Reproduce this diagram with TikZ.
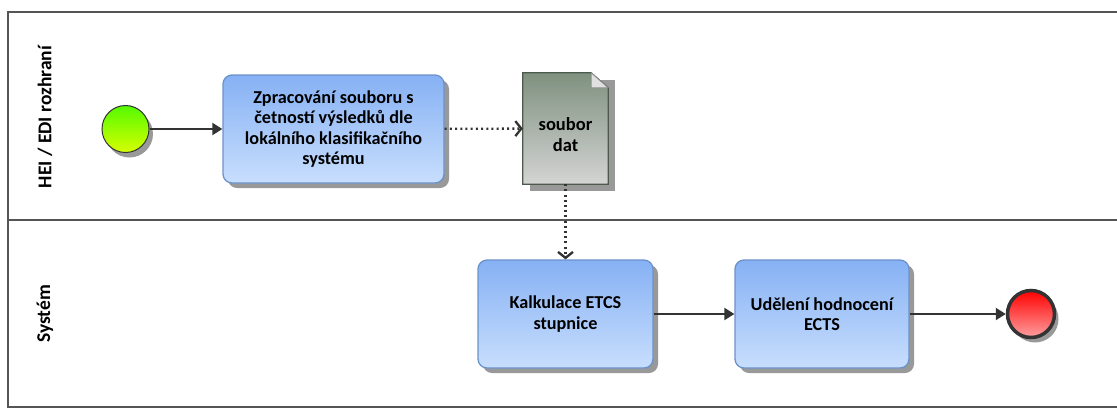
\documentclass[tikz,border=0pt]{standalone}
\usepackage{fontspec}
\setmainfont{Carlito}
\usetikzlibrary{arrows.meta,shadows}
\definecolor{laneline}{HTML}{555555}
\definecolor{flowline}{HTML}{333333}
\definecolor{tasktop}{HTML}{86B1F4}
\definecolor{taskbot}{HTML}{C8DEFD}
\definecolor{taskrim}{HTML}{6C92CA}
\definecolor{doctop}{HTML}{7F917F}
\definecolor{docbot}{HTML}{D4D4D4}
\definecolor{docrim}{HTML}{4B5A4C}
\definecolor{starttop}{HTML}{55FA00}
\definecolor{startbot}{HTML}{D8FF00}
\definecolor{endtop}{HTML}{FF0000}
\definecolor{endbot}{HTML}{FFA0A0}

\tikzset{
  lane/.style={draw=laneline, line width=1.3pt},
  lanename/.style={rotate=90, font=\bfseries\fontsize{19.5}{22}\selectfont},
  task/.style={rectangle, rounded corners=9pt, draw=taskrim, line width=1.3pt,
    top color=tasktop, bottom color=taskbot, align=center,
    font=\bfseries\fontsize{18.2}{20.5}\selectfont,
    drop shadow={shadow xshift=5pt, shadow yshift=-5pt, fill=black!40, opacity=1}},
  event/.style={circle, minimum size=47pt, inner sep=0pt,
    drop shadow={shadow xshift=4pt, shadow yshift=-5pt, fill=black!40, opacity=1}},
  docbox/.style={rectangle, minimum width=85pt, minimum height=111pt, inner sep=0pt},
  doctext/.style={align=center, font=\bfseries\fontsize{18.5}{21}\selectfont},
  flow/.style={draw=flowline, line width=2pt, -{Triangle[length=10pt,width=12pt]}},
  msg/.style={draw=flowline, line width=2.3pt, dash pattern=on 2pt off 3.2pt,
    -{Straight Barb[length=6pt,width=15pt]}}
}

\begin{document}
\begin{tikzpicture}[x=1pt, y=-1pt]
  \useasboundingbox (0,0) rectangle (1117,408);

  % Pool and lanes
  \draw[lane] (1117,12) -| (8,407) -- (1117,407);
  \draw[lane] (8,220) -- (1117,220);
  \node[lanename] (hei) at (45,117) {HEI / EDI rozhraní};
  \node[lanename] (sys) at (45,314) {Systém};

  % Events
  \node[event, draw=flowline, line width=1pt, top color=starttop, bottom color=startbot] (start) at (125.5,129) {};
  \node[event, draw=flowline, line width=3.5pt, top color=endtop, bottom color=endbot] (end) at (1031,314) {};

  % Tasks
  \node[task, minimum width=221pt, minimum height=108pt] (zprac) at (333.5,129)
    {Zpracování souboru s\\četností výsledků dle\\lokálního klasifikačního\\systému};
  \node[task, minimum width=175pt, minimum height=108pt] (kalk) at (565.5,314)
    {Kalkulace ETCS\\stupnice};
  \node[task, minimum width=174pt, minimum height=108pt] (udel) at (822,314)
    {Udělení hodnocení\\ECTS};

  % Data object with folded corner
  \node[docbox] (doc) at (565.5,128.5) {};
  \fill[black!40] ([shift={(7,7)}]doc.north west) rectangle ([shift={(7,7)}]doc.south east);
  \draw[docrim, line width=1.2pt, top color=doctop, bottom color=docbot]
    (doc.north west) -- ([xshift=-17pt]doc.north east) -- ([yshift=-15pt]doc.north east)
    -- (doc.south east) -- (doc.south west) -- cycle;
  \draw[black!45, line width=0.8pt, fill=black!12]
    ([xshift=-17pt]doc.north east) -- ([xshift=-17pt,yshift=-15pt]doc.north east)
    -- ([yshift=-15pt]doc.north east) -- cycle;
  \node[doctext] (docname) at ([yshift=-6pt]doc.center) {soubor\\dat};

  % Sequence and message flows
  \draw[flow] (start) -- (zprac);
  \draw[msg] (zprac) -- (doc);
  \draw[msg] (doc) -- (kalk);
  \draw[flow] (kalk) -- (udel);
  \draw[flow] (udel) -- (end);
\end{tikzpicture}
\end{document}
